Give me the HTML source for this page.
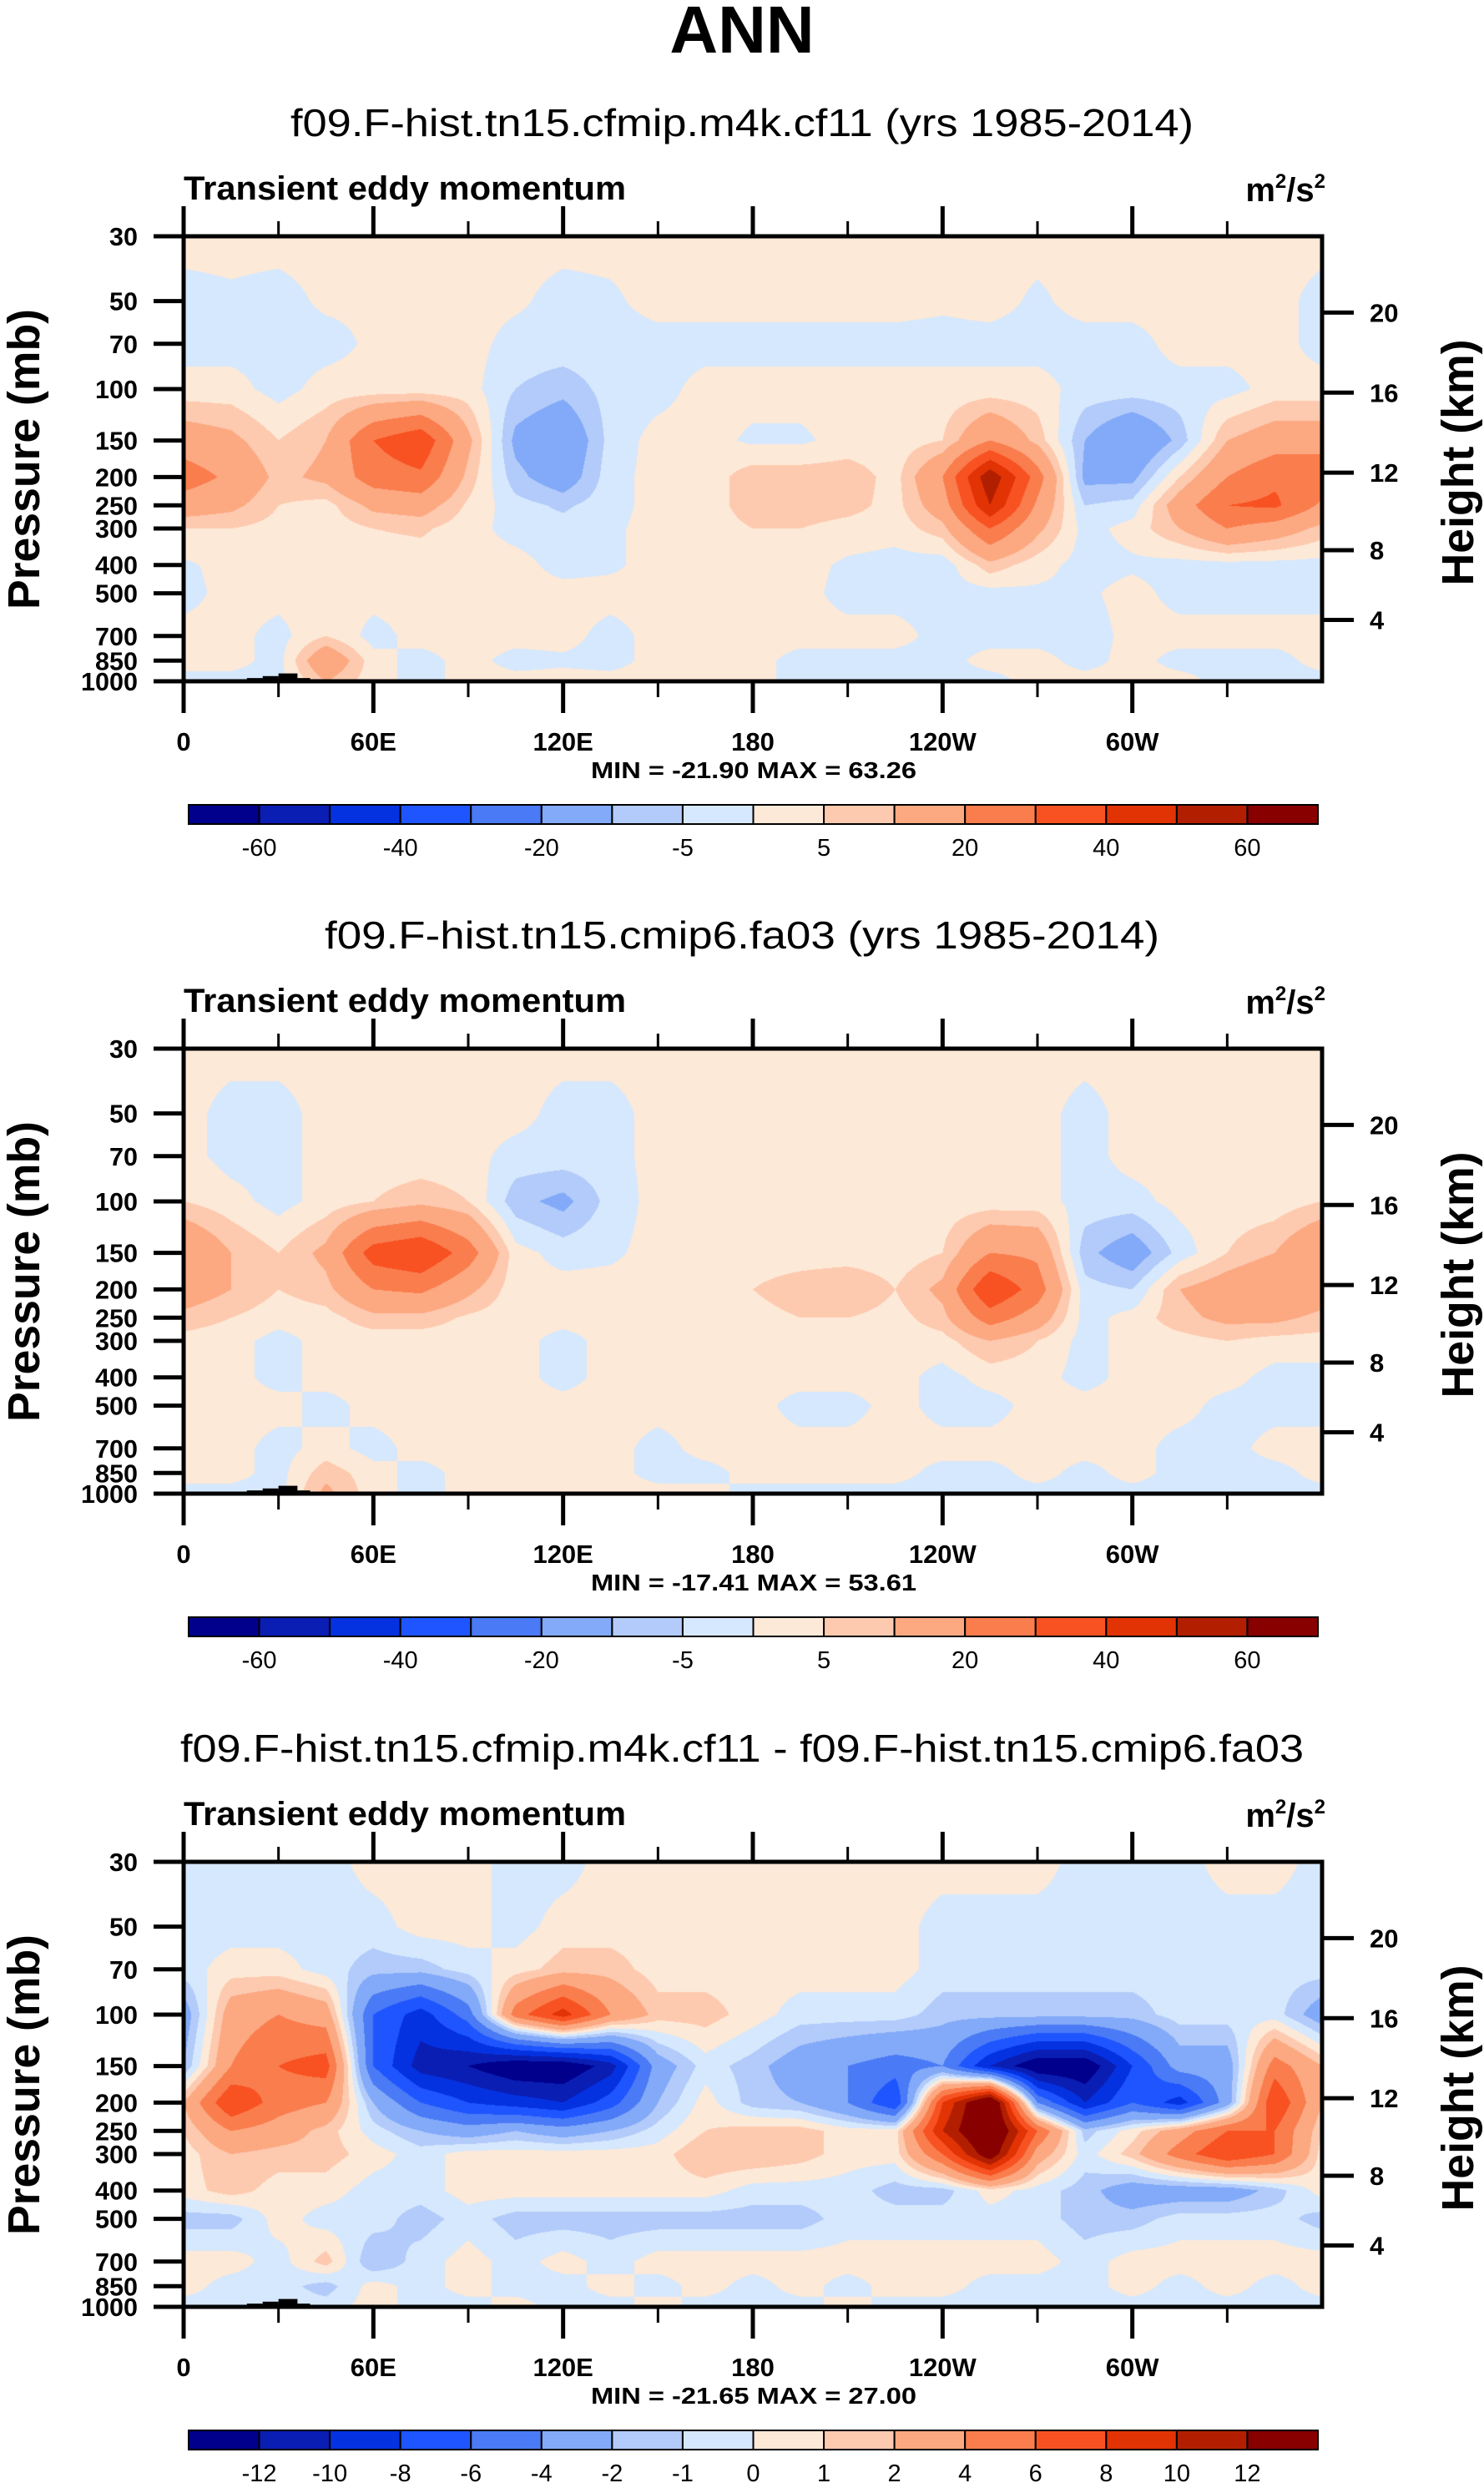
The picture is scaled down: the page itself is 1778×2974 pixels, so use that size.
<!DOCTYPE html>
<html><head><meta charset="utf-8">
<style>
html,body{margin:0;padding:0;background:#fff;}
#root{position:relative;width:1778px;height:2974px;overflow:hidden;background:#fff;}
canvas{position:absolute;}
svg{position:absolute;left:0;top:0;}
</style></head>
<body>
<div id="root">
<canvas id="c0" width="1364" height="533" style="left:220px;top:283px"></canvas>
<canvas id="c1" width="1364" height="533" style="left:220px;top:1256px"></canvas>
<canvas id="c2" width="1364" height="533" style="left:220px;top:2230px"></canvas>
<svg id="ov" width="1778" height="2974" xmlns="http://www.w3.org/2000/svg" font-family="Liberation Sans, sans-serif">
<text x="889" y="63" text-anchor="middle" font-size="80" font-weight="bold">ANN</text>
</svg>
</div>
<script>
const lons=[0,15,30,45,60,75,90,105,120,135,150,165,180,195,210,225,240,255,270,285,300,315,330,345,360];
const plevs=[30,50,70,100,150,200,250,300,400,500,700,850,1000];
const field1=[
[2,2,2,2,2,2,2,2,2,2,2,2,2,2,2,2,2,2,2,2,2,2,2,2,2],
[-2,-1,-2,1,1,1,2,1,-2,-1,2,2,2,2,2,2,1,2,-1,2,2,2,2,2,-2],
[-2,-2,-2,-2,1,1,2,-2,-2,-2,-2,-2,-2,-2,-2,-2,-2,-2,-2,-2,-2,2,2,2,-2],
[2,2,-2,2,2,2,2,-5,-8,-3,-2,2,2,2,2,2,2,2,2,-2,-2,-2,-2,2,2],
[15,12,5,10,30,38,12,-12,-18,-3,2,2,-1,-1,2,2,5,20,8,-10,-20,-8,10,15,15],
[25,18,8,12,25,28,8,-8,-15,-2,2,2,8,8,8,3,20,58,25,-12,-12,5,20,28,28],
[15,12,5,3,12,14,4,-3,-6,-2,2,2,8,8,7,3,15,50,18,-5,-3,15,30,32,18],
[5,5,3,2,5,6,2,-2,-3,-1,2,2,5,5,3,2,8,30,12,-2,2,10,20,15,8],
[-1,2,2,2,2,2,2,2,-2,-1,2,2,2,2,-1,-2,-3,8,2,-2,-1,-2,-2,-2,-2],
[-2,2,2,2,2,2,2,2,2,2,2,2,2,2,-2,-2,-2,-2,-1,-1,2,-2,-2,-2,-2],
[2,2,-2,5,-2,2,2,2,2,-2,2,2,2,2,2,2,-2,-2,-2,-3,2,2,2,2,2],
[2,2,-2,18,2,-2,2,-2,-1,-2,2,2,2,-2,-2,-2,-2,2,2,-2,2,-2,-2,-2,2],
[-2,-2,-2,10,2,-2,2,2,2,2,2,2,2,-2,-2,-2,-2,-2,2,2,2,2,-2,-2,-2]];
const field2=[
[2,2,2,2,2,2,2,2,2,2,2,2,2,2,2,2,2,2,2,2,2,2,2,2,2],
[2,-2,-2,2,2,2,2,2,-2,-2,2,2,2,2,2,2,2,2,2,-2,2,2,2,2,2],
[2,-2,-2,2,2,2,2,-2,-2,-2,2,2,2,2,2,2,2,2,2,-2,2,2,2,2,2],
[5,2,-2,2,5,8,5,-8,-12,-3,2,2,2,2,2,2,2,2,2,-2,-2,2,2,2,5],
[20,10,5,12,35,40,25,2,-2,-1,2,2,2,2,2,2,5,20,18,-8,-15,-3,5,10,20],
[15,10,5,8,20,22,12,2,2,2,2,2,5,8,10,5,12,40,25,-3,-5,10,15,20,15],
[8,5,2,3,8,8,4,2,2,2,2,2,3,5,5,3,8,25,15,-2,2,8,12,12,8],
[3,2,-2,2,2,2,2,2,-2,2,2,2,2,2,2,2,3,10,5,-2,2,3,5,3,3],
[2,2,-2,2,2,2,2,2,-2,2,2,2,2,2,2,2,-2,2,2,-2,2,2,2,-2,-2],
[2,2,2,-2,2,2,2,2,2,2,2,2,2,-2,-2,2,-2,-2,2,2,2,2,-2,-2,-2],
[2,2,-2,2,-2,2,2,2,2,2,-2,2,2,2,2,2,2,2,2,2,2,-2,-2,2,2],
[2,2,-2,8,2,-2,2,2,2,2,-2,-2,2,2,2,2,-2,-2,2,-2,2,-2,-2,-2,2],
[-2,-2,-2,12,2,-2,2,2,2,2,2,2,-2,-2,-2,-2,-2,-2,-2,-2,-2,-2,-2,-2,-2]];
const field3=[
[-0.5,-0.5,-0.5,-0.5,0.5,0.5,0.5,-0.5,-0.5,0.5,0.5,0.5,0.5,0.5,0.5,0.5,0.5,0.5,0.5,-0.5,-0.5,-0.5,0.5,0.5,-0.5],
[-0.5,-0.5,-0.5,-0.5,-0.5,0.5,0.5,-0.5,0.5,0.5,0.5,0.5,0.5,0.5,0.5,0.5,-0.5,-0.5,-0.5,-0.5,-0.5,-0.5,-0.5,-0.5,-0.5],
[-0.5,0.5,0.5,-0.5,-1.5,-1.5,-0.5,0.5,1.5,1.5,0.5,0.5,0.5,0.5,0.5,0.5,-0.5,-0.5,-0.5,-0.5,-0.5,-0.5,-0.5,-0.5,-0.5],
[-3,3,4,3,-6,-9,-5,5,9,4,1.5,1.5,0.5,-0.5,-0.5,-0.5,-1.5,-1.5,-1.5,-1.5,-1.5,-0.5,-0.5,-0.5,-3],
[-2,4,6,7,-6,-11,-12,-14,-14,-11,-3,-0.5,-1.5,-3,-4,-5,-4,-10,-14,-14,-8,-3,-3,5,2],
[2,8,5,4,-2,-6,-8,-9,-10,-7,-2,0.5,-1.5,-2,-4,-8,8,16,-4,-10,-6,-9,-3,8,2],
[1,4,3,1.5,-0.5,-2,-3,-2,-3,-2,-0.5,1,1.5,1.5,0.5,0.5,10,16,6,-1.5,0.5,3,6,6,1],
[0.5,2,1.5,1.5,0.5,-0.5,0.5,0.5,0.5,0.5,0.5,2,2,1.5,0.5,0.5,6,14,3,-0.5,1.5,5,8,6,0.5],
[0.5,1.5,0.5,0.5,-0.5,-0.5,0.5,0.5,0.5,0.5,0.5,0.5,-0.5,-0.5,-0.5,-1.5,-1.5,0.5,-0.5,-1.5,-3,-3,-3,-1.5,0.5],
[-1.5,-1.5,0.5,-0.5,-0.5,-1.5,-0.5,-1.5,-1.5,-1.5,-1.5,-1.5,-1.5,-1.5,-0.5,-0.5,-0.5,-0.5,-0.5,-1.5,-1.5,-0.5,-0.5,-0.5,-1.5],
[0.5,0.5,-0.5,1.5,-2,-0.5,0.5,-0.5,0.5,-0.5,0.5,0.5,0.5,0.5,0.5,0.5,0.5,0.5,0.5,-0.5,0.5,0.5,0.5,0.5,0.5],
[0.5,-0.5,-0.5,-1.5,0.5,-0.5,0.5,-0.5,-0.5,0.5,-0.5,0.5,-0.5,0.5,-0.5,0.5,0.5,-0.5,-0.5,-0.5,0.5,-0.5,0.5,-0.5,0.5],
[-0.5,-0.5,-0.5,-0.5,0.5,-0.5,-0.5,0.5,-0.5,-0.5,0.5,-0.5,-0.5,-0.5,0.5,-0.5,-0.5,-0.5,-0.5,-0.5,-0.5,-0.5,-0.5,-0.5,-0.5]];
const levels1=[-60,-50,-40,-30,-20,-10,-5,0,5,10,20,30,40,50,60];
const levels3=[-12,-10,-8,-6,-4,-2,-1,0,1,2,4,6,8,10,12];
const cbLabels1=["-60","","-40","","-20","","-5","","5","","20","","40","","60"];
const cbLabels3=["-12","-10","-8","-6","-4","-2","-1","0","1","2","4","6","8","10","12"];
const palette=["#00008c","#0a1eb4","#0532e1","#1e55ff","#4a7af5","#82aaf8","#b2cbfa","#d6e8fd","#fde9d7","#fdcab0","#fca982","#fa7d4e","#f85222","#e23304","#b21f00","#880000"];
const topoLon=[10,20,25,30,36,100,285,290,310];
const topoLon2=[20,25,30,36,40,101,290,310,316];
const topoP=[985,975,960,940,975,993,985,990,992];
const subtitles=["f09.F-hist.tn15.cfmip.m4k.cf11 (yrs 1985-2014)","f09.F-hist.tn15.cmip6.fa03 (yrs 1985-2014)","f09.F-hist.tn15.cfmip.m4k.cf11 - f09.F-hist.tn15.cmip6.fa03"];
const minmax=["MIN = -21.90  MAX =  63.26","MIN = -17.41  MAX =  53.61","MIN = -21.65  MAX = 27.00"];
const xTickLabels=["0","60E","120E","180","120W","60W"];
const pTicks=[30,50,70,100,150,200,250,300,400,500,700,850,1000];
const kmTicks=[20,16,12,8,4];

const X0=220,W=1364,Y0=283,H=533;
const offs=[0,973,1947];
const L30=Math.log(30),L1000=Math.log(1000);
function xOf(lon){return X0+lon/360*W;}
function yOf(p,o){return Y0+o+(Math.log(p)-L30)/(L1000-L30)*H;}
function kmToP(z){return z<11?1013.25*Math.pow(1-z/44.33,5.256):226.3*Math.exp(-(z-11)/6.34);}
const lnP=plevs.map(p=>Math.log(p));
function hex(c){return [parseInt(c.substr(1,2),16),parseInt(c.substr(3,2),16),parseInt(c.substr(5,2),16)];}
const rgb=palette.map(hex);
function drawField(cid,field,levels){
  const cv=document.getElementById(cid),ctx=cv.getContext('2d');
  const img=ctx.createImageData(W,H);const d=img.data;
  for(let py=0;py<H;py++){
    const lp=L30+(py+0.5)/H*(L1000-L30);
    let j=0;while(j<plevs.length-2&&lp>lnP[j+1])j++;
    const fy=Math.min(1,Math.max(0,(lp-lnP[j])/(lnP[j+1]-lnP[j])));
    for(let px=0;px<W;px++){
      const lon=(px+0.5)/W*360;let i=Math.min(lons.length-2,Math.floor(lon/15));
      const fx=(lon-lons[i])/15;
      const v=(field[j][i]*(1-fx)+field[j][i+1]*fx)*(1-fy)+(field[j+1][i]*(1-fx)+field[j+1][i+1]*fx)*fy;
      let k=0;while(k<levels.length&&v>=levels[k])k++;
      const c=rgb[k];const q=(py*W+px)*4;
      d[q]=c[0];d[q+1]=c[1];d[q+2]=c[2];d[q+3]=255;
    }
  }
  ctx.putImageData(img,0,0);
}
drawField('c0',field1,levels1);
drawField('c1',field2,levels1);
drawField('c2',field3,levels3);

const NS="http://www.w3.org/2000/svg";
const svg=document.getElementById('ov');
function el(tag,attrs,text){const e=document.createElementNS(NS,tag);for(const k in attrs)e.setAttribute(k,attrs[k]);if(text!==undefined)e.textContent=text;svg.appendChild(e);return e;}

for(let p=0;p<3;p++){
  const o=offs[p];
  let t=el('text',{x:889,y:163+o,'text-anchor':'middle','font-size':46,textLength:p==2?1346:(p==0?1082:1000),lengthAdjust:'spacingAndGlyphs'},subtitles[p]);
  
  
  t=el('text',{x:220,y:239+o,'font-size':40,'font-weight':'bold',textLength:530,lengthAdjust:'spacingAndGlyphs'},'Transient eddy momentum');
  
  
  t=el('text',{x:1588,y:241+o,'text-anchor':'end','font-size':40,'font-weight':'bold'});
  t.innerHTML='m<tspan font-size="24" dy="-16">2</tspan><tspan dy="16">/s</tspan><tspan font-size="24" dy="-16">2</tspan>';
  
  
  for(let k=0;k<topoLon.length;k++){
    const r=el('rect',{x:xOf(topoLon[k]),y:yOf(topoP[k],o),width:xOf(topoLon2[k])-xOf(topoLon[k]),height:Y0+o+H-yOf(topoP[k],o),fill:'#000'});
    
    
  }
  let f=el('rect',{x:X0,y:Y0+o,width:W,height:H,fill:'none',stroke:'#000','stroke-width':5});
  
  
  for(let lon=0;lon<=330;lon+=30){
    const major=lon%60==0;const x=xOf(lon);
    let l=el('line',{x1:x,x2:x,y1:Y0+o-(major?36:18),y2:Y0+o,stroke:'#000','stroke-width':major?5:3});
    
    
    l=el('line',{x1:x,x2:x,y1:Y0+o+H,y2:Y0+o+H+(major?38:19),stroke:'#000','stroke-width':major?5:3});
    
    
    if(major){
      const tl=el('text',{x:x,y:899+o,'text-anchor':'middle','font-size':31,'font-weight':'bold'},xTickLabels[lon/60]);
      
      
    }
  }
  pTicks.forEach(pv=>{
    const y=yOf(pv,o);
    let l=el('line',{x1:184,x2:X0,y1:y,y2:y,stroke:'#000','stroke-width':5});
    
    
    const tl=el('text',{x:165,y:y+11,'text-anchor':'end','font-size':31,'font-weight':'bold',textLength:String(pv).length*17,lengthAdjust:'spacingAndGlyphs'},String(pv));
    
    
  });
  kmTicks.forEach(z=>{
    const y=yOf(kmToP(z),o);
    let l=el('line',{x1:X0+W,x2:X0+W+38,y1:y,y2:y,stroke:'#000','stroke-width':5});
    
    
    const tl=el('text',{x:1641,y:y+11,'font-size':31,'font-weight':'bold'},String(z));
    
    
  });
  t=el('text',{x:0,y:0,'text-anchor':'middle','font-size':54,'font-weight':'bold',transform:`translate(47,${550+o}) rotate(-90)`,textLength:360,lengthAdjust:'spacingAndGlyphs'},'Pressure (mb)');
  
  
  t=el('text',{x:0,y:0,'text-anchor':'middle','font-size':54,'font-weight':'bold',transform:`translate(1765,${554+o}) rotate(-90)`,textLength:295,lengthAdjust:'spacingAndGlyphs'},'Height (km)');
  
  
  t=el('text',{x:903,y:932+o,'text-anchor':'middle','font-size':28,'font-weight':'bold',textLength:390,lengthAdjust:'spacingAndGlyphs','xml:space':'preserve'},minmax[p]);
  
  
  const cbx=226,cbw=1353/16,cby=964+o;
  const labs=p==2?cbLabels3:cbLabels1;
  for(let k=0;k<16;k++){
    const r=el('rect',{x:cbx+k*cbw,y:cby,width:cbw,height:23,fill:palette[k],stroke:'#000','stroke-width':2});
    
    
  }
  labs.forEach((s,k)=>{
    if(!s)return;
    const tl=el('text',{x:cbx+(k+1)*cbw,y:1025+o,'text-anchor':'middle','font-size':29},s);
    
    
  });
}
</script>
</body></html>
